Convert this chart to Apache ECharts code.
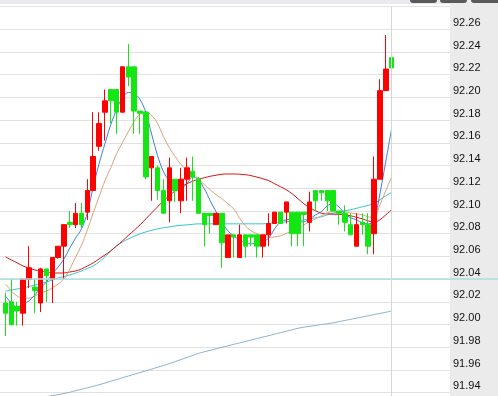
<!DOCTYPE html>
<html><head><meta charset="utf-8">
<script src="https://cdn.jsdelivr.net/npm/echarts@6/dist/echarts.min.js"></script>
<style>html,body{margin:0;padding:0;background:#fff}#c{width:498px;height:396px}</style>
</head><body><div id="c"></div>
<script>
// candle data (open, close, low, high)
const opens  = [92.019,92.020,92.016,92.010,92.040,92.033,92.019,92.049,92.040,92.059,92.069,92.090,92.088,92.098,92.099,92.118,92.157,92.187,92.207,92.207,92.187,92.227,92.227,92.188,92.187,92.138,92.138,92.118,92.109,92.128,92.109,92.128,92.135,92.128,92.098,92.098,92.088,92.098,92.059,92.079,92.059,92.079,92.079,92.079,92.069,92.079,92.089,92.099,92.099,92.099,92.099,92.099,92.090,92.118,92.118,92.118,92.118,92.100,92.098,92.088,92.069,92.090,92.088,92.080,92.128,92.206,92.235];
const closes = [92.010,92.000,92.012,92.040,92.050,92.030,92.049,92.043,92.059,92.069,92.088,92.088,92.098,92.088,92.118,92.148,92.177,92.197,92.197,92.187,92.227,92.218,92.188,92.186,92.130,92.148,92.118,92.098,92.138,92.118,92.128,92.138,92.130,92.098,92.088,92.096,92.098,92.072,92.079,92.077,92.079,92.069,92.077,92.069,92.079,92.089,92.099,92.089,92.108,92.080,92.080,92.097,92.108,92.109,92.116,92.109,92.100,92.098,92.090,92.079,92.088,92.088,92.069,92.128,92.206,92.225,92.226];
const lows   = [91.990,91.999,91.999,91.999,92.032,92.010,92.011,92.020,92.019,92.058,92.040,92.085,92.085,92.085,92.092,92.118,92.153,92.162,92.177,92.168,92.187,92.210,92.168,92.168,92.128,92.109,92.110,92.098,92.090,92.108,92.098,92.109,92.109,92.098,92.069,92.080,92.088,92.050,92.059,92.059,92.059,92.059,92.069,92.059,92.059,92.069,92.089,92.089,92.089,92.069,92.069,92.069,92.082,92.100,92.109,92.100,92.100,92.088,92.082,92.079,92.069,92.079,92.062,92.062,92.128,92.206,92.206];
const highs  = [92.028,92.040,92.020,92.040,92.069,92.040,92.050,92.049,92.059,92.069,92.088,92.100,92.107,92.107,92.128,92.187,92.187,92.207,92.207,92.207,92.227,92.247,92.227,92.188,92.187,92.148,92.140,92.128,92.147,92.128,92.138,92.147,92.148,92.130,92.098,92.098,92.098,92.098,92.079,92.079,92.088,92.079,92.079,92.079,92.079,92.098,92.099,92.099,92.108,92.099,92.099,92.099,92.117,92.118,92.118,92.118,92.118,92.100,92.105,92.098,92.098,92.098,92.098,92.148,92.216,92.255,92.244];
// moving average lines
const maBlue = [92.0251,92.0189,92.0154,92.0181,92.0207,92.0260,92.0322,92.0375,92.0446,92.0507,92.0578,92.0675,92.0763,92.0843,92.0984,92.1214,92.1417,92.1593,92.1761,92.1894,92.2000,92.2044,92.2035,92.1982,92.1867,92.1673,92.1487,92.1346,92.1267,92.1227,92.1205,92.1240,92.1302,92.1275,92.1196,92.1090,92.0993,92.0905,92.0825,92.0781,92.0746,92.0719,92.0710,92.0719,92.0728,92.0763,92.0843,92.0905,92.0922,92.0931,92.0905,92.0905,92.0931,92.0966,92.0993,92.1046,92.1064,92.1037,92.0975,92.0940,92.0922,92.0896,92.0887,92.0913,92.1152,92.1434,92.1726];
const maTan = [92.0357,92.0295,92.0251,92.0233,92.0233,92.0251,92.0278,92.0295,92.0322,92.0357,92.0401,92.0490,92.0596,92.0701,92.0834,92.0984,92.1125,92.1267,92.1381,92.1505,92.1602,92.1699,92.1788,92.1858,92.1876,92.1841,92.1770,92.1655,92.1558,92.1479,92.1408,92.1364,92.1328,92.1284,92.1231,92.1187,92.1143,92.1108,92.1064,92.1019,92.0940,92.0869,92.0825,92.0799,92.0777,92.0768,92.0772,92.0781,92.0803,92.0821,92.0838,92.0878,92.0905,92.0931,92.0958,92.0984,92.0993,92.0993,92.0993,92.0984,92.0975,92.0966,92.0949,92.0940,92.1055,92.1178,92.1302];
const maRed = [92.0596,92.0569,92.0543,92.0516,92.0498,92.0481,92.0472,92.0463,92.0454,92.0454,92.0454,92.0463,92.0472,92.0490,92.0516,92.0543,92.0578,92.0613,92.0649,92.0693,92.0737,92.0785,92.0830,92.0878,92.0931,92.0984,92.1037,92.1090,92.1134,92.1178,92.1214,92.1240,92.1262,92.1280,92.1293,92.1306,92.1315,92.1324,92.1326,92.1326,92.1324,92.1320,92.1311,92.1298,92.1284,92.1267,92.1240,92.1214,92.1187,92.1152,92.1108,92.1064,92.1028,92.1002,92.0980,92.0975,92.0972,92.0971,92.0966,92.0958,92.0944,92.0931,92.0913,92.0900,92.0922,92.0966,92.1011];
const maCyan = [92.0295,92.0304,92.0313,92.0322,92.0335,92.0348,92.0362,92.0375,92.0392,92.0410,92.0423,92.0437,92.0454,92.0472,92.0494,92.0516,92.0551,92.0596,92.0649,92.0693,92.0728,92.0754,92.0777,92.0799,92.0816,92.0830,92.0843,92.0852,92.0860,92.0869,92.0874,92.0878,92.0883,92.0887,92.0887,92.0887,92.0887,92.0887,92.0887,92.0887,92.0887,92.0887,92.0887,92.0887,92.0887,92.0891,92.0896,92.0900,92.0905,92.0909,92.0913,92.0922,92.0931,92.0940,92.0949,92.0966,92.0980,92.0993,92.1002,92.1011,92.1024,92.1037,92.1050,92.1064,92.1099,92.1134,92.1165];
const maLong = ['-','-','-','-',91.9337,91.9346,91.9355,91.9365,91.9374,91.9383,91.9393,91.9404,91.9418,91.9430,91.9443,91.9456,91.9470,91.9485,91.9501,91.9516,91.9532,91.9547,91.9562,91.9577,91.9593,91.9608,91.9624,91.9639,91.9656,91.9674,91.9692,91.9710,91.9728,91.9746,91.9760,91.9773,91.9787,91.9800,91.9812,91.9826,91.9838,91.9851,91.9864,91.9877,91.9890,91.9902,91.9916,91.9928,91.9941,91.9954,91.9967,91.9977,91.9984,91.9992,92.0000,92.0007,92.0015,92.0025,92.0036,92.0046,92.0057,92.0067,92.0077,92.0088,92.0098,92.0108,92.0119];
const priceLine = [92.04];
const yMin = 91.92, yMax = 92.28, yStep = 0.02;
const categories = opens.map((_, i) => String(i + 1));

const candleData = opens.map((o, i) => [o, closes[i], lows[i], highs[i]]);
const gTop = 6.6, gHeight = 408.8;

const chart = echarts.init(document.getElementById('c'), null, {renderer: 'canvas'});
const lineS = (data, color) => ({
  type: 'line', data, xAxisIndex: 1, yAxisIndex: 1, showSymbol: false, symbol: 'none',
  smooth: 0.3, lineStyle: {color, width: 1}, silent: true, z: 3
});
const gridBase = {top: gTop, height: gHeight, show: false, containLabel: false, outerBoundsMode: 'none'};
chart.setOption({
  animation: false,
  backgroundColor: '#ffffff',
  graphic: [
    {type: 'rect', shape: {x: 450, y: 0, width: 48, height: 396}, style: {fill: '#ebebeb'}, z: -1, silent: true},
    {type: 'rect', shape: {x: 0, y: 0, width: 498, height: 4}, style: {fill: '#e9ebee'}, z: -1, silent: true},
    {type: 'rect', shape: {x: 410, y: -6, width: 27, height: 9, r: 3}, style: {fill: '#5a5a5a'}, z: 5, silent: true},
    {type: 'rect', shape: {x: 440, y: -6, width: 27, height: 9, r: 3}, style: {fill: '#5a5a5a'}, z: 5, silent: true},
    {type: 'rect', shape: {x: 471, y: -6, width: 30, height: 9, r: 3}, style: {fill: '#5a5a5a'}, z: 5, silent: true}
  ],
  grid: [
    Object.assign({left: 0, width: 450}, gridBase),
    Object.assign({left: 2.575, width: 391.95}, gridBase),
    Object.assign({left: 450, width: 48}, gridBase)
  ],
  xAxis: [
    {type: 'value', gridIndex: 0, min: 0, max: 1, show: false},
    {type: 'category', gridIndex: 1, data: categories, boundaryGap: true, show: false},
    {type: 'value', gridIndex: 2, min: 0, max: 1, show: false}
  ],
  yAxis: [
    {type: 'value', gridIndex: 0, position: 'right', min: yMin, max: yMax, interval: yStep,
     axisLine: {show: false}, axisTick: {show: false},
     splitLine: {show: true, lineStyle: {color: '#e2e2e2', width: 1}},
     axisLabel: {show: true, showMaxLabel: false, showMinLabel: false, margin: 3,
       color: '#111111', fontFamily: 'Liberation Sans', fontSize: 11,
       verticalAlign: 'bottom', padding: [0, 0, 1, 0],
       formatter: v => v.toFixed(2)}},
    {type: 'value', gridIndex: 1, min: yMin, max: yMax, show: false, splitLine: {show: false}},
    {type: 'value', gridIndex: 2, min: yMin, max: yMax, show: false, splitLine: {show: false}}
  ],
  series: [
    {type: 'line', xAxisIndex: 0, yAxisIndex: 0, data: [], silent: true,
     markLine: {silent: true, symbol: 'none', label: {show: false},
       lineStyle: {color: '#a9dde3', width: 1.5, type: 'solid'},
       data: [{yAxis: priceLine[0]}]}},
    {type: 'line', xAxisIndex: 2, yAxisIndex: 2, data: [], silent: true,
     markLine: {silent: true, symbol: 'none', label: {show: false},
       lineStyle: {color: '#a9dde3', width: 1.5, type: 'solid'},
       data: [{yAxis: priceLine[0]}]}},
    {type: 'candlestick', xAxisIndex: 1, yAxisIndex: 1, data: candleData, barWidth: 5,
     silent: true, z: 4,
     itemStyle: {color: '#ff0000', color0: '#14e614', borderColor: '#ff0000', borderColor0: '#14e614', borderWidth: 1},
     markLine: {silent: true, symbol: 'none', label: {show: false},
       lineStyle: {color: '#d6d6d6', width: 1, type: 'solid'},
       data: [{xAxis: categories[categories.length - 1]}]}},
    lineS(maLong, '#8db0cc'),
    lineS(maCyan, '#33c6cc'),
    lineS(maRed, '#dd1010'),
    lineS(maTan, '#dca27c'),
    lineS(maBlue, '#3a7fe0')
  ]
});
</script></body></html>
